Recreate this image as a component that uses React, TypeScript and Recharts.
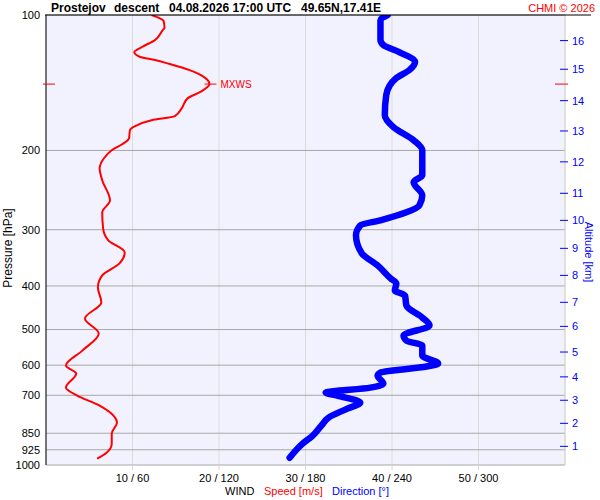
import { ScatterChart, Scatter, XAxis, YAxis, CartesianGrid, ReferenceDot } from 'recharts';

// wind speed profile [m/s]
const speedPressure = [
  100, 103.1, 106.9, 108.0, 113.7, 117.8, 120.9, 124.0, 125.9, 128.5, 132.6, 136.7, 142.4, 148.4,
  153.0, 161.0, 167.8, 171.3, 176.6, 180.3, 187.8, 193.7, 199.8, 208.1, 219.1, 232.9, 258.1, 274.5,
  297.9, 316.8, 336.9, 356.4, 379.0, 403.0, 435.3, 472.6, 510.4, 556.9, 601.2, 626.3, 672.9, 701.1,
  737.9, 805.3, 851.8, 896.6, 939.0, 968.2,
];
const speedValues = [
  12.2, 13.6, 13.7, 13.5, 12.6, 11.1, 10.2, 10.9, 12.6, 14.3, 16.6, 18.1, 18.9, 17.8,
  16.4, 15.7, 14.9, 12.2, 10.3, 9.7, 9.6, 8.8, 7.6, 6.7, 6.2, 6.5, 7.4, 6.5,
  6.6, 7.2, 9.1, 8.5, 6.5, 6.0, 6.4, 4.5, 6.1, 4.2, 2.3, 3.5, 2.3, 3.6,
  6.2, 8.2, 7.6, 7.6, 7.0, 5.9,
];

// wind direction profile [deg]
const dirPressure = [
  100, 102.6, 113.7, 116.6, 120.9, 127.2, 132.6, 138.1, 150.6, 167.0, 177.5, 189.8, 199.8, 227.0,
  235.3, 251.6, 264.8, 274.5, 285.9, 293.3, 308.7, 338.6, 360.1, 384.9, 394.9, 409.3, 420.0, 442.1,
  470.2, 489.6, 515.7, 529.1, 542.8, 571.2, 595.1, 604.3, 623.1, 632.8, 659.3, 672.9, 690.5, 701.1,
  726.7, 749.4, 784.8, 817.6, 860.7, 896.6, 963.3,
];
const dirValues = [
  237, 232, 232, 234, 245, 256, 252, 243, 236, 235, 241, 255, 261, 261,
  255, 261, 259, 250, 232, 218, 215, 219, 230, 239, 243, 242, 249, 250,
  261, 266, 248, 250, 261, 261, 272, 264, 232, 230, 234, 225, 194, 202,
  218, 209, 196, 191, 185, 178, 169,
];

const pressureTicks = [100, 200, 300, 400, 500, 600, 700, 850, 925, 1000];
const windTicks = [10, 20, 30, 40, 50];
const altitudeKm = [1, 2, 3, 4, 5, 6, 7, 8, 9, 10, 11, 12, 13, 14, 15, 16];
const altitudePressure = [909, 808, 718, 637, 561, 492, 435, 379, 330, 286, 249, 212, 181, 155, 132, 114];

const maxWind = { p: 142.4, v: 18.9 };

const speedData = speedPressure.map((p, i) => ({ p, v: speedValues[i] }));
const dirData = dirPressure.map((p, i) => ({ p, v: dirValues[i] }));

const FONT = '"Liberation Sans", Arial, sans-serif';

const noDot = () => <g />;

const AltTick = (props: any) => {
  const { x, y, payload } = props;
  const idx = altitudePressure.indexOf(payload.value);
  return (
    <g>
      <line x1={x - 5} x2={x + 3} y1={y} y2={y} stroke="#0000ff" />
      <text x={x + 7} y={y} dy="0.355em" fill="#0000ff" fontSize={11}>
        {altitudeKm[idx]}
      </text>
    </g>
  );
};

const MxwsMark = (props: any) => {
  const { cx, cy } = props;
  return (
    <g>
      <line x1={cx - 5} x2={cx + 7} y1={cy} y2={cy} stroke="#ff0000" />
      <text x={cx + 11} y={cy} dy="0.355em" fill="#ff0000" fontSize={10}>
        MXWS
      </text>
    </g>
  );
};

const LeftMark = (props: any) => (
  <line x1={props.cx - 3} x2={props.cx + 9} y1={props.cy} y2={props.cy} stroke="#ff0000" />
);

const RightMark = (props: any) => (
  <line x1={props.cx - 10} x2={props.cx + 3} y1={props.cy} y2={props.cy} stroke="#ff0000" />
);

export default function App() {
  return (
    <div style={{ position: 'absolute', left: 0, top: 0, width: 600, height: 500, background: '#fff', fontFamily: FONT }}>
      <ScatterChart width={600} height={500} margin={{ top: 15, right: 0, bottom: 15, left: 0 }}>
        <CartesianGrid xAxisId="spd" yAxisId="p" horizontal={false} stroke="#dcdcdc" fill="#f2f2ff" fillOpacity={1} />
        <CartesianGrid xAxisId="spd" yAxisId="p" vertical={false} stroke="#a8a8a8" />
        <XAxis
          xAxisId="spd"
          type="number"
          dataKey="v"
          domain={[0, 60]}
          ticks={windTicks}
          interval={0}
          tickFormatter={(v) => `${v} / ${v * 6}`}
          axisLine={false}
          tickLine={{ stroke: '#d8d8d8' }}
          tickSize={5}
          tickMargin={4}
          height={20}
          tick={{ fill: '#000', fontSize: 11 }}
          allowDataOverflow
        />
        <XAxis xAxisId="dir" type="number" dataKey="v" domain={[0, 360]} hide height={0} allowDataOverflow />
        <YAxis
          yAxisId="p"
          type="number"
          dataKey="p"
          scale="log"
          domain={[100, 1000]}
          reversed
          ticks={pressureTicks}
          interval={0}
          width={46}
          tickLine={false}
          tickSize={0}
          tickMargin={6}
          axisLine={{ stroke: '#000' }}
          tick={{ fill: '#000', fontSize: 11 }}
          allowDataOverflow
        />
        <YAxis
          yAxisId="alt"
          orientation="right"
          type="number"
          scale="log"
          domain={[100, 1000]}
          reversed
          ticks={altitudePressure}
          interval={0}
          width={35}
          tickLine={false}
          tickSize={0}
          tickMargin={0}
          axisLine={{ stroke: '#d4d4d4' }}
          tick={AltTick}
          allowDataOverflow
        />
        <Scatter
          data={dirData}
          xAxisId="dir"
          yAxisId="p"
          line={{ stroke: '#0000ff', strokeWidth: 6.5, strokeLinejoin: 'round', strokeLinecap: 'round' }}
          lineJointType="monotoneY"
          shape={noDot}
          isAnimationActive={false}
        />
        <Scatter
          data={speedData}
          xAxisId="spd"
          yAxisId="p"
          line={{ stroke: '#ff0000', strokeWidth: 2, strokeLinejoin: 'round' }}
          lineJointType="monotoneY"
          shape={noDot}
          isAnimationActive={false}
        />
        <ReferenceDot xAxisId="spd" yAxisId="p" x={maxWind.v} y={maxWind.p} shape={MxwsMark} ifOverflow="visible" />
        <ReferenceDot xAxisId="spd" yAxisId="p" x={0} y={maxWind.p} shape={LeftMark} ifOverflow="visible" />
        <ReferenceDot xAxisId="spd" yAxisId="p" x={60} y={maxWind.p} shape={RightMark} ifOverflow="visible" />
      </ScatterChart>
      <svg width={600} height={500} style={{ position: 'absolute', left: 0, top: 0, pointerEvents: 'none' }}>
        <line x1={45} x2={591} y1={15} y2={15} stroke="#000" />
        <g fontSize={12} fontWeight="bold" fill="#000">
          <text x={51} y={12}>Prostejov</text>
          <text x={114} y={12}>descent</text>
          <text x={169} y={12}>04.08.2026 17:00 UTC</text>
          <text x={301} y={12}>49.65N,17.41E</text>
        </g>
        <text x={595} y={12} textAnchor="end" fontSize={11} fill="#ff0000">CHMI © 2026</text>
        <text x={12} y={248} textAnchor="middle" fontSize={12} fill="#000" transform="rotate(-90 12 248)">
          Pressure [hPa]
        </text>
        <text x={585} y={252} textAnchor="middle" fontSize={11} fill="#0000ff" transform="rotate(90 585 252)">
          Altitude [km]
        </text>
        <g fontSize={11}>
          <text x={225} y={495} fill="#000">WIND</text>
          <text x={264} y={495} fill="#ff0000">Speed [m/s]</text>
          <text x={332} y={495} fill="#0000ff">Direction [°]</text>
        </g>
      </svg>
    </div>
  );
}
